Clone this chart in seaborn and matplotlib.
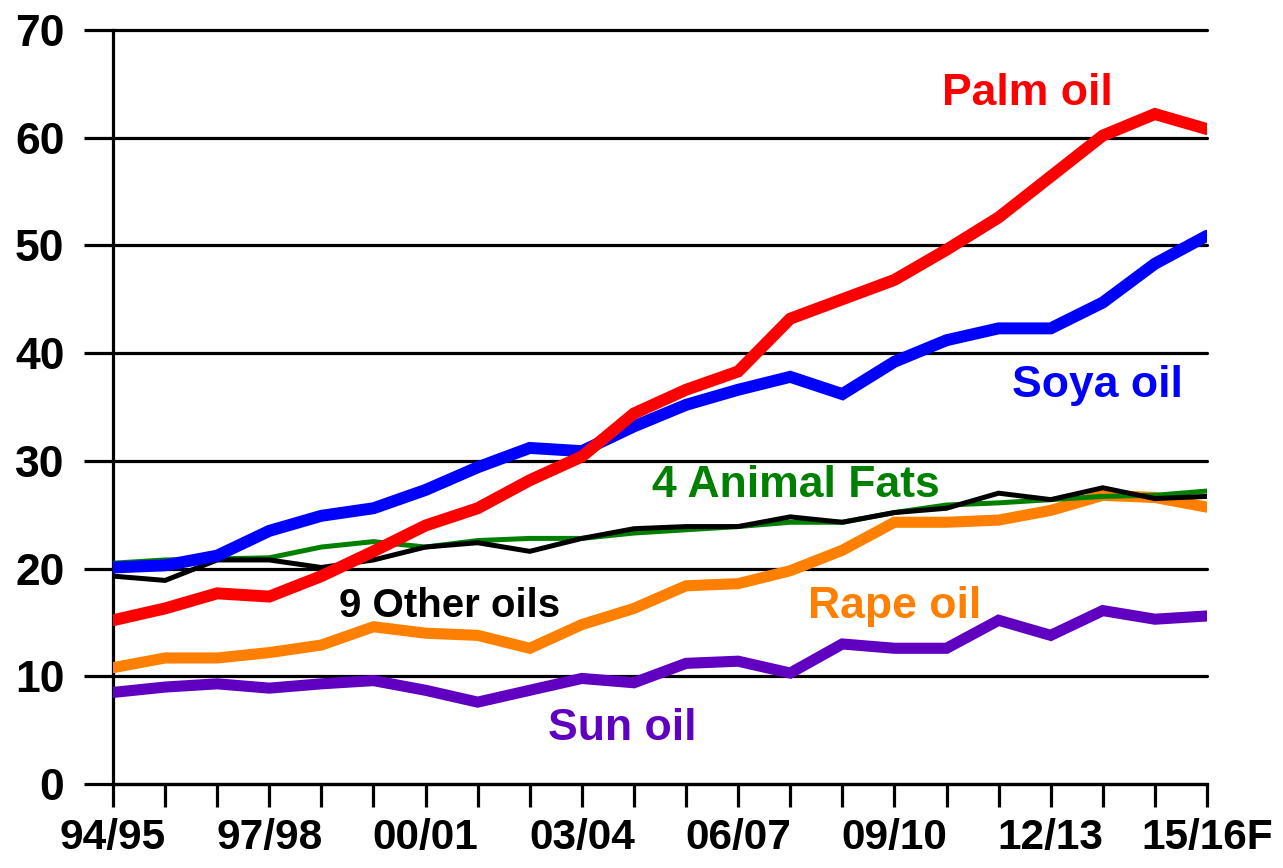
import matplotlib
matplotlib.use("Agg")
import matplotlib.pyplot as plt
import seaborn as sns
import pandas as pd

seasons = ["94/95", "95/96", "96/97", "97/98", "98/99", "99/00", "00/01", "01/02",
           "02/03", "03/04", "04/05", "05/06", "06/07", "07/08", "08/09", "09/10",
           "10/11", "11/12", "12/13", "13/14", "14/15", "15/16F"]
tick_labels = ["94/95", "97/98", "00/01", "03/04", "06/07", "09/10", "12/13", "15/16F"]

palm_oil = [15.2, 16.3, 17.7, 17.4, 19.3, 21.6, 24.0, 25.6, 28.2, 30.4, 34.4,
            36.6, 38.3, 43.2, 45.0, 46.8, 49.6, 52.6, 56.4, 60.2, 62.2, 60.8]
soya_oil = [20.1, 20.3, 21.2, 23.5, 24.9, 25.6, 27.3, 29.4, 31.2, 30.9, 33.2,
            35.2, 36.6, 37.8, 36.2, 39.2, 41.2, 42.3, 42.3, 44.7, 48.3, 50.9]
animal_fats = [20.5, 20.8, 20.9, 21.0, 22.0, 22.5, 22.0, 22.6, 22.8, 22.8, 23.3,
               23.6, 23.9, 24.3, 24.3, 25.2, 25.9, 26.1, 26.4, 26.7, 26.8, 27.2]
other_oils = [19.3, 18.9, 20.8, 20.8, 20.1, 20.8, 22.0, 22.4, 21.6, 22.8, 23.7,
              23.9, 23.9, 24.8, 24.3, 25.2, 25.6, 27.0, 26.4, 27.5, 26.5, 26.7]
rape_oil = [10.8, 11.7, 11.7, 12.2, 12.9, 14.6, 14.0, 13.8, 12.6, 14.8, 16.3,
            18.4, 18.6, 19.8, 21.7, 24.3, 24.3, 24.5, 25.4, 26.8, 26.6, 25.7]
sun_oil = [8.5, 9.0, 9.3, 8.9, 9.3, 9.6, 8.7, 7.6, 8.7, 9.8, 9.4,
           11.2, 11.4, 10.3, 13.0, 12.6, 12.6, 15.2, 13.8, 16.1, 15.3, 15.6]

series_names = ["Sun oil", "Rape oil", "4 Animal Fats", "9 Other oils", "Soya oil", "Palm oil"]
series_values = [sun_oil, rape_oil, animal_fats, other_oils, soya_oil, palm_oil]
colors = ["#6000C0", "#FF8000", "#008000", "#000000", "#0000FF", "#FF0000"]
widths = [8.0, 8.0, 3.6, 3.6, 8.6, 8.6]

sns.set_style("white")
plt.rcParams["font.family"] = ["Liberation Sans", "DejaVu Sans"]
plt.rcParams["font.weight"] = "bold"

fig = plt.figure(figsize=(12.83, 8.68), dpi=100)
ax = fig.add_axes([113 / 1283, (868 - 784) / 868, (1207 - 113) / 1283, (784 - 30) / 868])

x = list(range(len(seasons)))
for name, vals, c, w in zip(series_names, series_values, colors, widths):
    df = pd.DataFrame({"x": x, "y": vals})
    sns.lineplot(data=df, x="x", y="y", ax=ax, color=c, linewidth=w,
                 solid_joinstyle="miter", zorder=3)

ax.set_xlim(0, len(seasons) - 1)
ax.set_ylim(0, 70)
ax.set_xlabel("")
ax.set_ylabel("")

ax.set_xticks(x)
ax.set_xticklabels([s if s in tick_labels else "" for s in seasons])
ax.set_yticks(range(0, 71, 10))
ax.set_yticklabels([str(v) for v in range(0, 71, 10)])

ax.set_axisbelow(True)
ax.yaxis.grid(True, color="black", linewidth=2.3)
ax.xaxis.grid(False)
for gl in ax.yaxis.get_gridlines():
    gl.set_clip_on(False)
for s in ["top", "right"]:
    ax.spines[s].set_visible(False)
for s in ["left", "bottom"]:
    ax.spines[s].set_color("black")
    ax.spines[s].set_linewidth(2.3)

ax.tick_params(axis="x", bottom=True, direction="out", length=16.5, width=2.3,
               color="black", labelcolor="black", pad=8, labelsize=30.5)
ax.tick_params(axis="y", left=True, direction="out", length=21, width=2.3,
               color="black", labelcolor="black", pad=14, labelsize=32)
for lab in ax.get_xticklabels() + ax.get_yticklabels():
    lab.set_fontweight("bold")

labels = [
    ("Palm oil", 17.55, 63.0, "#FF0000", 32),
    ("Soya oil", 18.9, 35.9, "#0000FF", 32),
    ("4 Animal Fats", 13.1, 26.6, "#008000", 32),
    ("9 Other oils", 6.47, 15.55, "#000000", 29),
    ("Rape oil", 15.0, 15.4, "#FF8000", 32),
    ("Sun oil", 9.78, 4.04, "#6000C0", 32),
]
for txt, lx, ly, c, fs in labels:
    ax.text(lx, ly, txt, color=c, fontsize=fs, fontweight="bold",
            ha="center", va="baseline", zorder=5)

fig.savefig("out.png", dpi=100)
